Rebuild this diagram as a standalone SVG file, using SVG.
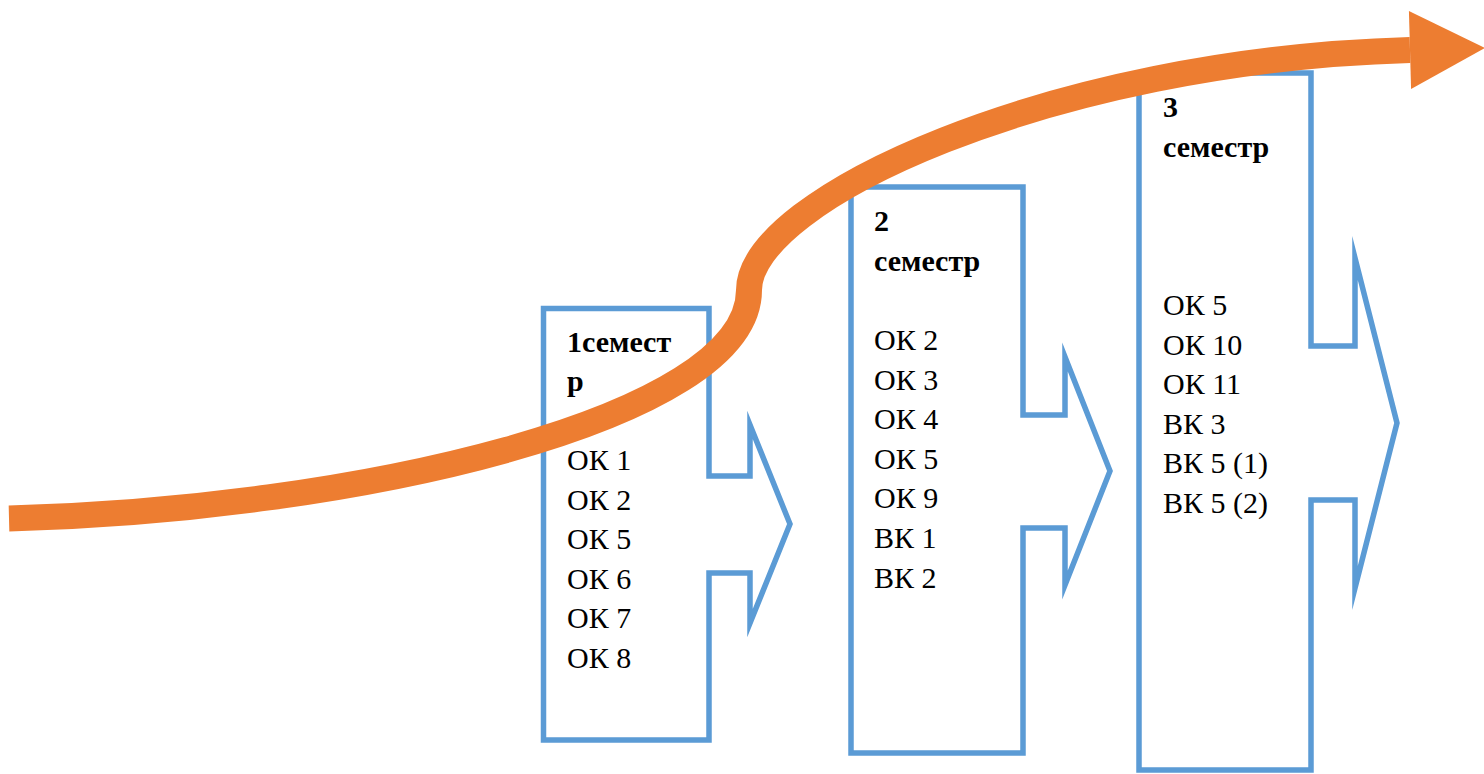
<svg xmlns="http://www.w3.org/2000/svg" width="1484" height="774" viewBox="0 0 1484 774">
  <defs>
    <style>
      .box { fill: #FFFFFF; stroke: #5B9BD5; stroke-width: 5.5; stroke-linejoin: miter; stroke-miterlimit: 10; }
      .t { font-family: "Liberation Serif", "DejaVu Serif", "Times New Roman", serif; font-size: 30px; fill: #000000; }
      .h { font-weight: bold; }
      .flow { fill: none; stroke: #ED7D31; stroke-width: 26; stroke-linecap: butt; }
    </style>
    <marker id="ah" markerUnits="userSpaceOnUse" markerWidth="80" markerHeight="84" refX="0" refY="40" orient="auto" overflow="visible">
      <path d="M0,1 L75,40 L0,79 Z" fill="#ED7D31"/>
    </marker>
  </defs>
  <rect width="1484" height="774" fill="#FFFFFF"/>

  <g id="sem1">
    <path class="box" d="M543.5,308.5 H709 V476 H750 V425 L790,524 L750,623 V573 H709 V740 H543.5 Z"/>
    <text class="t h" x="567" y="351.5">1семест</text>
    <text class="t h" x="567" y="390.5">р</text>
    <text class="t" x="567" y="470">ОК 1</text>
    <text class="t" x="567" y="509.6">ОК 2</text>
    <text class="t" x="567" y="549.2">ОК 5</text>
    <text class="t" x="567" y="588.8">ОК 6</text>
    <text class="t" x="567" y="628.4">ОК 7</text>
    <text class="t" x="567" y="668">ОК 8</text>
  </g>

  <g id="sem2">
    <path class="box" d="M851,187 H1023 V415 H1065 V357 L1110,471 L1065,585 V528 H1023 V753 H851 Z"/>
    <text class="t h" x="874" y="231">2</text>
    <text class="t h" x="874" y="271">семестр</text>
    <text class="t" x="874" y="350">ОК 2</text>
    <text class="t" x="874" y="389.6">ОК 3</text>
    <text class="t" x="874" y="429.2">ОК 4</text>
    <text class="t" x="874" y="468.8">ОК 5</text>
    <text class="t" x="874" y="508.4">ОК 9</text>
    <text class="t" x="874" y="548">ВК 1</text>
    <text class="t" x="874" y="587.6">ВК 2</text>
  </g>

  <g id="sem3">
    <path class="box" d="M1139,73 H1311 V346 H1355 V258 L1397,423 L1355,588 V500 H1311 V770 H1139 Z"/>
    <text class="t h" x="1163" y="117">3</text>
    <text class="t h" x="1163" y="157">семестр</text>
    <text class="t" x="1163" y="315">ОК 5</text>
    <text class="t" x="1163" y="354.6">ОК 10</text>
    <text class="t" x="1163" y="394.2">ОК 11</text>
    <text class="t" x="1163" y="433.8">ВК 3</text>
    <text class="t" x="1163" y="473.4">ВК 5 (1)</text>
    <text class="t" x="1163" y="513">ВК 5 (2)</text>
  </g>

  <g id="connectors">
    <path class="flow" d="M9,518.5 C350,510 749,420 749,290 C749,200 1050,60 1410,50" marker-end="url(#ah)"/>
  </g>
</svg>
